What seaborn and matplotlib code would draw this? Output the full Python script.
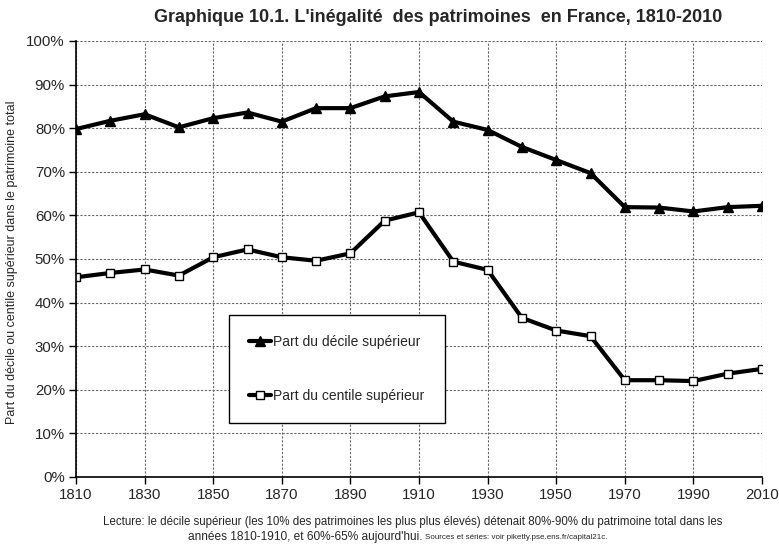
import matplotlib
matplotlib.use("Agg")
import matplotlib.pyplot as plt
import seaborn as sns
import pandas as pd
from matplotlib.ticker import FuncFormatter, MultipleLocator, FixedLocator

years = [1810, 1820, 1830, 1840, 1850, 1860, 1870, 1880, 1890, 1900, 1910,
         1920, 1930, 1940, 1950, 1960, 1970, 1980, 1990, 2000, 2010]
decile = [79.8, 81.7, 83.2, 80.2, 82.3, 83.6, 81.5, 84.6, 84.6, 87.3, 88.3,
          81.5, 79.6, 75.7, 72.7, 69.7, 61.9, 61.8, 60.9, 61.9, 62.2]
centile = [45.8, 46.8, 47.6, 46.2, 50.4, 52.2, 50.4, 49.6, 51.3, 58.8, 60.7,
           49.4, 47.5, 36.5, 33.6, 32.3, 22.2, 22.2, 22.0, 23.7, 24.8]
series_names = ["Part du décile supérieur", "Part du centile supérieur"]
x_ticks = [1810, 1830, 1850, 1870, 1890, 1910, 1930, 1950, 1970, 1990, 2010]

title = "Graphique 10.1. L'inégalité  des patrimoines  en France, 1810-2010"
ylabel = "Part du décile ou centile supérieur dans le patrimoine total"
note1 = "Lecture: le décile supérieur (les 10% des patrimoines les plus plus élevés) détenait 80%-90% du patrimoine total dans les"
note2a = "années 1810-1910, et 60%-65% aujourd'hui."
note2b = "Sources et séries: voir piketty.pse.ens.fr/capital21c."

df = pd.DataFrame({
    "year": years * 2,
    "value": [v / 100 for v in decile] + [v / 100 for v in centile],
    "series": [series_names[0]] * len(years) + [series_names[1]] * len(years),
})

sns.set_theme(style="white")
plt.rcParams["font.family"] = ["Liberation Sans", "DejaVu Sans"]

fig = plt.figure(figsize=(7.79, 5.46), dpi=100)
ax = fig.add_axes([76 / 779, 1 - 477 / 546, 686 / 779, 436 / 546])

sns.lineplot(data=df, x="year", y="value", hue="series", style="series",
             palette=["black", "black"], markers={series_names[0]: "^", series_names[1]: "s"},
             dashes=False, linewidth=3, markersize=7, markeredgecolor="black",
             markeredgewidth=1, ax=ax, legend=True)

for line in ax.get_lines():
    if line.get_marker() == "s":
        line.set_markerfacecolor("white")
        line.set_markersize(6)
    elif line.get_marker() == "^":
        line.set_markerfacecolor("black")
        line.set_markersize(7)

ax.set_xlim(1810, 2010)
ax.set_ylim(0, 1.0)
ax.xaxis.set_major_locator(FixedLocator(x_ticks))
ax.yaxis.set_major_locator(MultipleLocator(0.1))
ax.yaxis.set_major_formatter(FuncFormatter(lambda v, p: f"{v*100:.0f}%"))
ax.grid(True, color="#666666", linestyle=(0, (2, 1.5)), linewidth=0.8)
for s in ["top", "right"]:
    ax.spines[s].set_visible(False)
for s in ["left", "bottom"]:
    ax.spines[s].set_color("black")
    ax.spines[s].set_linewidth(1.2)
ax.tick_params(axis="both", direction="out", length=5, width=1, color="black",
               labelsize=10.8, pad=3, left=True, bottom=True)
ax.set_xlabel("")
ax.set_ylabel("")

handles, labels = ax.get_legend_handles_labels()
for h in handles:
    h.set_linewidth(3)
    if h.get_marker() == "s":
        h.set_markerfacecolor("white")
        h.set_markersize(6)
    else:
        h.set_markersize(7)
leg = ax.legend(handles, labels, loc="upper left",
                bbox_to_anchor=(0.223, 0.124, 0.315, 0.248), mode="expand",
                frameon=True, fancybox=False, edgecolor="black", framealpha=1,
                fontsize=10, handlelength=1.6, handletextpad=0.15,
                labelspacing=2.9, borderpad=1.45, borderaxespad=0)
leg.get_frame().set_linewidth(1.0)

fig.text(438 / 779, 1 - 17 / 546, title, ha="center", va="center",
         fontsize=13, fontweight="bold")
fig.text(12 / 779, 1 - 262 / 546, ylabel, rotation=90, ha="center",
         va="center", fontsize=9)
fig.text(413 / 779, 1 - 522 / 546, note1, ha="center", va="center",
         fontsize=8.3)
fig.text(423 / 779, 1 - 537 / 546, note2a, ha="right", va="center",
         fontsize=8.6)
fig.text(425 / 779, 1 - 537.5 / 546, note2b, ha="left", va="center",
         fontsize=5.8)

fig.savefig("out.png", dpi=100)
